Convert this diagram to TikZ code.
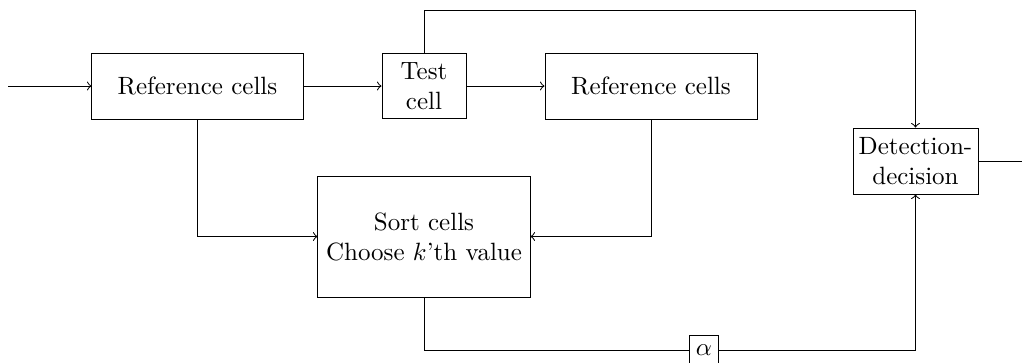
\documentclass[tikz,border=0pt]{standalone}
\begin{document}
\begin{tikzpicture}[x=0.4pt,y=-0.4pt,
  box/.style={draw, align=center, inner sep=0pt},
  conn/.style={->}]
\useasboundingbox (0,0) rectangle (1022,362);
\node[box, minimum width=84.4pt, minimum height=26.4pt] (ref1) at (197.5,86) {Reference cells};
\node[box, minimum width=33.6pt, minimum height=26pt] (test) at (424,86) {Test\\cell};
\node[box, minimum width=84.8pt, minimum height=26.4pt] (ref2) at (651,86) {Reference cells};
\node[box, minimum width=84.8pt, minimum height=48.4pt] (sort) at (424,236.5) {Sort cells\\Choose $k$'th value};
\node[box, minimum width=50pt, minimum height=26.4pt] (det) at (915.5,161) {Detection-\\decision};
\node[box, minimum width=11.6pt, minimum height=11.6pt] (alpha) at (704,350) {$\alpha$};
\coordinate (in) at (8,86);
\coordinate (out) at (1022,161);
\coordinate (topy) at (0,10);
\draw[conn] (in) -- (ref1.west);
\draw[conn] (ref1.east) -- (test.west);
\draw[conn] (test.east) -- (ref2.west);
\draw[conn] (test.north) -- (test.north |- topy) -| (det.north);
\draw[conn] (ref1.south) |- (sort.west);
\draw[conn] (ref2.south) |- (sort.east);
\draw (sort.south) |- (alpha.west);
\draw[conn] (alpha.east) -| (det.south);
\draw (det.east) -- (out);
\end{tikzpicture}
\end{document}
